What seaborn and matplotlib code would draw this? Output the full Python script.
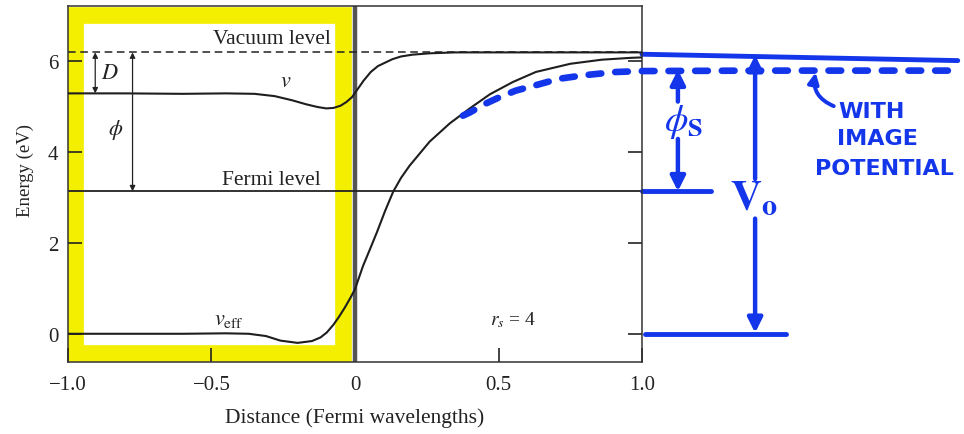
import matplotlib
matplotlib.use("Agg")
import matplotlib.pyplot as plt
import seaborn as sns
from matplotlib.patches import Rectangle

# potential v (bare) across the surface
x_v = [-1.0, -0.8, -0.6, -0.45, -0.35, -0.28, -0.22, -0.17, -0.13, -0.1, -0.075,
       -0.05, -0.03, -0.01, 0.01, 0.03, 0.055, 0.08, 0.1, 0.13, 0.16, 0.2, 0.26, 0.35, 1.0]
v = [5.28, 5.28, 5.27, 5.28, 5.27, 5.22, 5.13, 5.04, 4.98, 4.95, 4.96,
     5.01, 5.09, 5.2, 5.38, 5.56, 5.75, 5.88, 5.94, 6.03, 6.09, 6.13, 6.16, 6.18, 6.18]

# effective potential v_eff
x_eff = [-1.0, -0.8, -0.6, -0.45, -0.37, -0.31, -0.26, -0.2, -0.15, -0.12, -0.098,
         -0.075, -0.055, -0.035, -0.015, 0.0, 0.028, 0.055, 0.077, 0.105, 0.133, 0.16,
         0.19, 0.26, 0.33, 0.40, 0.47, 0.55, 0.63, 0.75, 0.86, 0.96, 1.0]
v_eff = [0.0, 0.0, 0.0, 0.01, 0.0, -0.05, -0.15, -0.2, -0.16, -0.08, 0.03,
         0.2, 0.38, 0.58, 0.8, 0.98, 1.49, 1.9, 2.24, 2.7, 3.12, 3.42,
         3.69, 4.22, 4.62, 4.95, 5.26, 5.53, 5.75, 5.93, 6.02, 6.06, 6.07]

# hand-drawn image potential curve (blue dashes)
x_img = [0.376, 0.40, 0.45, 0.505, 0.56, 0.63, 0.71, 0.80, 0.91, 1.0, 1.4, 1.8, 2.1]
v_img = [4.79, 4.86, 5.04, 5.2, 5.34, 5.46, 5.6, 5.68, 5.75, 5.77, 5.78, 5.78, 5.78]

vacuum_level = 6.18
fermi_level = 3.13
blue_vacuum = [6.14, 6.0]

x_ticks = [-1.0, -0.5, 0, 0.5, 1.0]
x_tick_labels = ["\u22121.0", "\u22120.5", "0", "0.5", "1.0"]
y_ticks = [0, 2, 4, 6]

BLUE = "#1436ea"
YELLOW = "#f4ef00"
INK = "#222222"

sns.set_theme(style="white")
plt.rcParams["font.family"] = ["Liberation Serif", "DejaVu Serif"]
plt.rcParams["mathtext.fontset"] = "stix"

fig = plt.figure(figsize=(9.64, 4.35), dpi=100)
ax = fig.add_axes([0.0705, 0.1655, 0.5955, 0.8185])

# yellow highlighter frame over the metal side
ax.add_patch(Rectangle((-0.974, -0.43), 0.932, 7.44, fill=False, edgecolor=YELLOW,
                       linewidth=12, joinstyle="miter", zorder=0))

# reference levels
ax.axhline(vacuum_level, color=INK, lw=1.1, ls=(0, (5, 3)), zorder=2)
ax.axhline(fermi_level, color=INK, lw=1.3, zorder=2)
ax.axvline(0, color="#555555", lw=3.2, zorder=1)

sns.lineplot(x=x_v, y=v, ax=ax, color="#1e1e1e", lw=1.5, sort=False, zorder=3)
sns.lineplot(x=x_eff, y=v_eff, ax=ax, color="#1e1e1e", lw=1.5, sort=False, zorder=3)
sns.lineplot(x=x_img, y=v_img, ax=ax, color=BLUE, lw=4.8, sort=False, zorder=4)
img_line = ax.lines[-1]
img_line.set_linestyle((0, (1.9, 2.1)))
img_line.set_dash_capstyle("round")
img_line.set_clip_on(False)

ax.set_xlim(-1.0, 1.0)
ax.set_ylim(-0.62, 7.2)
ax.set_xticks(x_ticks)
ax.set_xticklabels(x_tick_labels)
ax.set_yticks(y_ticks)
ax.tick_params(axis="both", direction="in", length=10, width=1.2, color=INK,
               labelsize=15, labelcolor=INK)
ax.tick_params(axis="y", right=True, left=True, pad=7)
ax.tick_params(axis="x", bottom=True, pad=9)
for s in ax.spines.values():
    s.set_color("#333333")
    s.set_linewidth(1.1)

ax.set_xlabel("Distance (Fermi wavelengths)", fontsize=15.5, color=INK, labelpad=10)
ax.set_ylabel("Energy (eV)", fontsize=13.5, color=INK)
ax.yaxis.set_label_coords(-0.06, 0.54)

# textbook labels
ax.text(-0.085, 6.38, "Vacuum level", ha="right", va="baseline", fontsize=15.5, color=INK)
ax.text(-0.12, 3.3, "Fermi level", ha="right", va="baseline", fontsize=15.5, color=INK)
ax.text(-0.885, 5.72, "$D$", ha="left", va="center", fontsize=16, color=INK)
ax.text(-0.835, 4.5, r"$\phi$", ha="center", va="center", fontsize=16, color=INK)
ax.text(-0.24, 5.55, "$v$", ha="center", va="center", fontsize=16, color=INK)
ax.text(-0.44, 0.32, r"$v_{\mathrm{eff}}$", ha="center", va="center", fontsize=16, color=INK)
ax.text(0.55, 0.33, r"$r_s$ = 4", ha="center", va="center", fontsize=14, color=INK)

arrow_k = dict(arrowstyle="<|-|>", color=INK, lw=0.9, mutation_scale=8,
               shrinkA=0, shrinkB=0)
ax.annotate("", xy=(-0.905, vacuum_level), xytext=(-0.905, 5.28), arrowprops=arrow_k)
ax.annotate("", xy=(-0.775, vacuum_level), xytext=(-0.775, fermi_level), arrowprops=arrow_k)

# hand-drawn blue annotations to the right of the plot
ax.plot([1.0, 2.1], blue_vacuum, color=BLUE, lw=3.5, clip_on=False, solid_capstyle="round")
ax.plot([1.0, 1.24], [fermi_level, fermi_level], color=BLUE, lw=3.5, clip_on=False,
        solid_capstyle="round")
ax.plot([1.01, 1.5], [0, 0], color=BLUE, lw=3.5, clip_on=False, solid_capstyle="round")

arrow_b = dict(arrowstyle="-|>", color=BLUE, lw=3.2, mutation_scale=22,
               shrinkA=0, shrinkB=0)
ax.annotate("", xy=(1.125, 5.8), xytext=(1.125, 5.1), arrowprops=arrow_b, annotation_clip=False)
ax.annotate("", xy=(1.125, fermi_level), xytext=(1.125, 4.28), arrowprops=arrow_b,
            annotation_clip=False)
ax.text(1.145, 4.68, r"$\phi_{\mathbf{S}}$", ha="center", va="center", fontsize=27,
        color=BLUE, clip_on=False)

ax.annotate("", xy=(1.394, 6.12), xytext=(1.394, 3.4), arrowprops=arrow_b, annotation_clip=False)
ax.annotate("", xy=(1.394, 0.02), xytext=(1.394, 2.53), arrowprops=arrow_b, annotation_clip=False)
ax.text(1.39, 2.95, r"$\mathbf{V_o}$", ha="center", va="center", fontsize=31, color=BLUE,
        clip_on=False)

ax.annotate("", xy=(1.605, 5.74), xytext=(1.668, 5.0),
            arrowprops=dict(arrowstyle="-|>", color=BLUE, lw=2.8, mutation_scale=16,
                            connectionstyle="arc3,rad=-0.4", shrinkA=0, shrinkB=0),
            annotation_clip=False)
for label, xx, yy in [("WITH", 1.80, 4.9), ("IMAGE", 1.82, 4.3), ("POTENTIAL", 1.845, 3.65)]:
    ax.text(xx, yy, label, ha="center", va="center", fontsize=16, color=BLUE,
            family="DejaVu Sans", fontweight="bold", clip_on=False)

fig.savefig("out.png", dpi=100, facecolor="white")
